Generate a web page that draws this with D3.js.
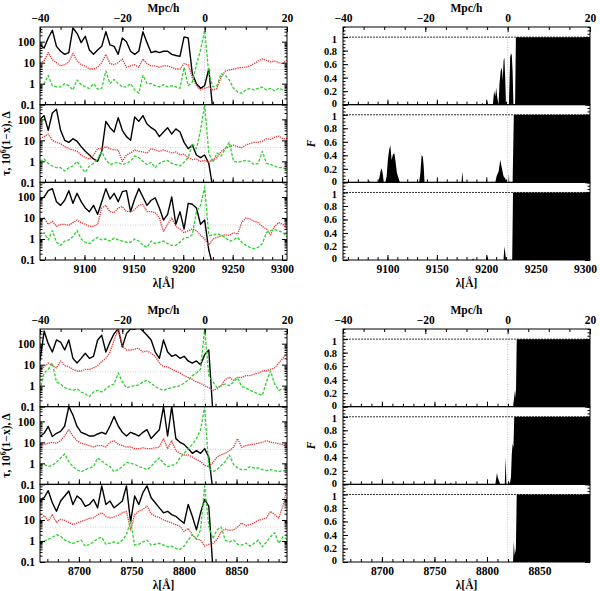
<!DOCTYPE html>
<html>
<head>
<meta charset="utf-8">
<script src="https://cdn.jsdelivr.net/npm/d3@7"></script>
<style>
body { margin: 0; background: #fff; }
text { font-family: "Liberation Serif", serif; font-weight: bold; font-size: 11.5px; fill: #000; }
text.flab { font-size: 10.5px; }
</style>
</head>
<body>
<svg id="chart" width="600" height="591"></svg>
<script>
// comoving distance grid (Mpc/h) shared by every left-hand panel
var mpc = [-40,-39,-38,-37,-36,-35,-34,-33,-32,-31,-30,-29,-28,-27,-26,-25,-24,-23,-22,-21,
  -20,-19,-18,-17,-16,-15,-14,-13,-12,-11,-10,-9,-8,-7,-6,-5,-4,-3,-2,-1,
  0,1,2,3,4,5,6,7,8,9,10,11,12,13,14,15,16,17,18,19,20];

var mpcTicks = [-40, -20, 0, 20];
var lamDomainA = [9055, 9305];
var lamTicksA = [9100, 9150, 9200, 9250, 9300];
var lamDomainB = [8663, 8898];
var lamTicksB = [8700, 8750, 8800, 8850];
var logTicks = [0.1, 1, 10, 100];
var fTicks = [0, 0.2, 0.4, 0.6, 0.8, 1];
var meanLevel = 4.6;

// upper set (lambda ~ 9220 A)
var tauA1 = [70,50,150,350,60,35,25,30,450,250,90,180,40,25,40,60,300,70,60,25,
  150,100,35,25,35,300,90,30,35,30,35,35,25,22,20,170,150,3,1,0.6,0.8,5,0.05];
var xhA1 = [10,12,30,14,10,7,8,11,28,12,8,7,5,5,6,10,25,9,8,10,
  15,6,7,8,6,15,9,7,7,6,7,7,6,5,5,9,8,2,0.8,0.5,
  0.6,0.7,0.5,0.6,2,4,4.5,5,5.5,6,6,7,9,12,15,13,11,12,10,9,14];
var deltaA1 = [0.7,1,2.5,0.8,0.7,0.7,1,0.8,0.5,1.5,0.9,0.7,0.6,1,0.55,0.6,4,1,1.6,1,
  0.7,0.7,1,0.5,0.35,2.5,1,1,0.8,0.7,0.9,0.7,0.8,0.7,0.6,6,0.8,1.2,8,40,
  350,3,0.7,0.8,3,2.5,1.5,0.6,0.4,0.35,0.5,0.6,0.5,0.6,0.7,0.5,0.6,0.45,0.6,0.5,0.45];

var tauA2 = [100,150,30,200,300,30,10,8,12,9,5,3,2,1.3,1,3,80,40,25,120,
  30,15,10,130,80,150,60,40,30,15,25,40,20,35,25,8,4,6,2,1.5,2,0.8,0.05];
var xhA2 = [12,15,20,10,8,7,5,4,3.5,3,2,1.5,1.3,2,4,4,5,4,3.5,3.5,
  1,2,2.5,3.5,3,2.8,2.5,4,3.5,3,3.5,3,2.5,2.8,2,2.2,1.5,1.2,1.3,1,
  1.1,0.9,1.2,1.5,3,4,5,6,5,4.5,6,7,8,8,9,12,11,14,16,12,12];
var deltaA2 = [1,1.3,0.8,0.6,0.5,0.5,0.35,0.5,0.6,1,0.5,0.3,0.6,0.8,1.3,2.8,1.2,0.7,0.8,0.9,
  0.7,0.8,1,1.8,1.5,1,0.7,0.9,0.5,0.8,1,1.1,0.8,0.7,0.6,0.9,1.5,7,4,30,
  500,2.5,0.9,2.5,1.8,4,8,1,0.9,1,1.1,1,0.7,0.8,3,0.8,0.7,0.6,0.5,0.5,0.4];

var tauA3 = [75,100,200,250,60,40,70,200,50,150,60,30,20,40,15,60,250,80,150,60,
  180,200,20,80,250,100,40,70,90,30,8,15,100,5,20,3,50,45,30,5,8,0.3,0.05];
var xhA3 = [7,10,5,7,4,5,5,4.5,6,8,6,5,4,4,5,30,40,20,18,30,
  35,20,20,25,40,45,20,20,18,10,2.3,5,10,4,3,2,2.5,3,2.5,1.5,
  1,0.5,1,1.2,1.4,1.6,1.5,2,1.7,6,10,9,7,6,4,3,1.6,4,6,5,3];
var deltaA3 = [1.2,2,0.9,2.5,0.7,0.5,0.8,0.9,1.3,2.5,1,0.7,0.6,0.9,1.2,0.9,1,0.8,1.1,0.9,
  0.8,0.7,0.7,1,0.8,0.5,0.4,0.8,0.6,0.7,0.8,0.6,0.5,0.5,0.7,1.1,1.2,1.6,20,40,
  300,1.5,1.5,1.8,1.5,1.2,0.8,0.9,1.2,0.7,0.5,0.4,0.35,0.4,0.6,2,2.5,2.8,2.5,2,1.3];

// lower set (lambda ~ 8820 A)
var tauB1 = [15,400,100,40,150,120,50,150,20,12,20,35,20,25,150,250,40,120,300,500,
  70,300,500,500,600,400,250,150,40,20,150,40,25,30,20,25,15,12,15,10,30,50,0.05];
var xhB1 = [5,8,12,9,7,15,9,8,6,5,5,6,6,7,9,14,20,40,150,500,
  80,50,50,55,60,40,45,35,25,12,8,8,6,5,4,3,2.5,2,1.5,1.3,
  1,0.8,0.6,0.7,1,2,2.5,1.8,2.5,2.5,3,3,3.5,4,5,5,6,7,12,20,35];
var deltaB1 = [0.6,4,6,12,1.5,1.2,0.8,0.7,0.6,0.7,0.5,0.4,0.3,0.5,0.6,0.5,0.7,1,1.2,4,
  1.5,0.8,0.9,1,1.1,1.5,1.8,1.3,0.9,0.7,0.6,0.7,0.8,0.9,1,1.3,1.8,3,4,6,
  500,3,1.5,0.8,1,1.2,1,1.5,2.3,0.9,0.8,0.6,0.5,0.4,0.35,1.5,5,1.2,0.6,0.7,0.6];

var tauB2 = [19,27,57,19,27,33,60,500,200,57,30,25,20,20,25,30,25,60,170,60,
  30,20,30,25,20,30,40,15,25,40,500,20,500,15,10,8,5,3,4,3,5,2,0.05];
var xhB2 = [8,8,9,10,9,12,20,40,20,12,9,8,7,6,7,7,6,10,12,8,
  7,6,6,5,5,5.5,5,5,5.5,6,15,5,12,4,3,2.5,2.5,2,1.5,1.2,
  0.8,0.7,1.1,2,2.6,3,4,5.8,15,5.8,7,7.7,8.3,9,10,12,10,9.6,8.7,7.7,5.8];
var deltaB2 = [0.8,0.9,0.7,0.8,1.1,1.8,2.8,1.2,0.7,0.5,0.4,0.5,0.6,0.7,1.8,1.3,0.9,0.7,0.4,0.5,
  0.7,1.1,1,0.9,0.7,0.6,0.5,0.7,1.2,1.8,1,0.7,0.8,0.9,1.8,3,5,8,15,40,
  500,0.6,0.4,0.5,0.8,1.2,2.5,0.9,0.6,0.5,0.5,0.7,0.6,0.6,0.5,0.45,0.5,0.45,0.4,0.45,0.4];

var tauB3 = [96,115,250,66,26,80,140,240,55,140,96,45,55,96,38,420,55,80,38,55,
  80,420,8,140,55,200,420,115,66,38,22,26,18,15,10,7,55,15,3.4,22,96,45,0.05];
var xhB3 = [10.4,16,9,18,7.7,11,9.6,7.7,6.2,7.2,8.6,10,12,12.5,18,22,15,12.5,14,17,
  22,26,3.4,18,26,32,46,20,15,13,10,8.6,7.2,6,5,2.8,4,2,1.2,1.1,
  0.57,0.7,0.77,1.2,2.8,3.7,3.2,3.4,4.6,7.2,5.3,6,7.2,9.6,11,12.5,26,18,12.5,46,290];
var deltaB3 = [0.77,1,1.2,1.5,2,1.7,1.1,0.9,0.77,0.9,1.1,0.57,0.7,0.9,1.3,1.5,0.7,0.8,0.9,0.77,
  1.1,2,8.6,0.64,0.7,0.9,1.1,0.64,0.7,0.77,0.64,0.53,0.57,0.44,0.4,0.57,1.1,2,1.3,3.4,
  420,5,1.3,3.4,4.6,1.1,0.9,1.1,0.7,0.64,0.8,0.57,0.77,1.1,0.53,0.9,1.6,2.5,0.77,1.6,1.2];

// transmitted flux, [Mpc/h, F] pairs
var fluxA1 = [[-40,0],[-6.3,0],[-6.1,0.03],[-5.9,0],[-5.0,0],[-4.9,0.06],[-4.7,0],[-3.6,0],[-3.3,0.2],
  [-3.0,0.12],[-2.8,0.25],[-2.5,0.1],[-2.2,0],[-2.0,0.3],[-1.7,0.5],[-1.4,0.55],[-1.2,0.35],[-1.0,0.65],
  [-0.8,0.7],[-0.6,0.4],[-0.4,0],[0.3,0],[0.6,0.7],[0.8,0.76],[1.0,0.73],[1.2,0.5],[1.4,0],[1.8,0],[2.0,1],[20,1]];
var fluxA2 = [[-40,0],[-33.9,0],[-33.7,0.03],[-33.5,0],[-31.5,0],[-31.2,0.06],[-30.9,0.16],[-30.6,0.21],
  [-30.3,0.11],[-30.1,0],[-29.7,0],[-29.4,0.09],[-29.1,0.33],[-28.8,0.48],[-28.5,0.55],[-28.2,0.33],
  [-27.9,0.41],[-27.5,0.43],[-27.2,0.29],[-26.9,0.14],[-26.5,0.06],[-26.2,0],[-21.5,0],[-21.2,0.14],
  [-20.9,0.4],[-20.6,0.38],[-20.4,0.24],[-20.2,0],[-11.2,0],[-11.0,0.16],[-10.8,0],[-3.0,0],[-2.7,0.09],
  [-2.2,0.16],[-1.8,0.33],[-1.4,0.21],[-1.0,0.09],[-0.6,0.06],[-0.3,0],[0.2,0],[0.3,0.13],[0.4,0],
  [1.2,0],[1.5,1],[20,1]];
var fluxA3 = [[-40,0],[-8.6,0],[-8.4,0.03],[-8.2,0],[-5.1,0],[-4.9,0.07],[-4.7,0],[-1.0,0],[-0.8,0.2],
  [-0.6,0.12],[-0.4,0],[1.1,0],[1.3,1],[20,1]];
var fluxB1 = [[-40,0],[1.3,0],[1.6,0.15],[1.8,0.25],[2.0,0.12],[2.2,1],[20,1]];
var fluxB2 = [[-40,0],[-14.0,0],[-13.8,0.03],[-13.6,0],[-3.0,0],[-2.8,0.08],[-2.6,0.17],[-2.4,0.1],
  [-2.1,0.05],[-1.8,0],[-0.7,0],[-0.5,0.4],[-0.3,0],[0.2,0],[0.3,0.05],[0.5,0],[0.8,0.1],[1.0,0.45],
  [1.2,0.6],[1.4,0.55],[1.6,1],[20,1]];
var fluxB3 = [[-40,0],[1.3,0],[1.5,0.3],[1.7,0.1],[2.0,0.2],[2.2,1],[20,1]];

var svg = d3.select("#chart");
var clipId = 0;

function decadeMinor(lo, hi) {
    var out = [];
    [0.1, 1, 10, 100].forEach(function(d) {
        for (var k = 2; k <= 9; k++) {
            if (d * k > lo && d * k < hi) out.push(d * k);
        }
    });
    return out;
}

function lamMinor(domain) {
    var out = [];
    for (var v = Math.ceil(domain[0] / 10) * 10; v <= domain[1]; v += 10) out.push(v);
    return out;
}

function mpcMinor() {
    var out = [];
    for (var v = -40; v <= 20; v += 5) out.push(v);
    return out;
}

function drawGroup(left, right, top, bottom, lamDomain, lamTicks, kind, panels) {
    var x = d3.scaleLinear().domain([-40, 20]).range([left, right]);
    var xl = d3.scaleLinear().domain(lamDomain).range([left, right]);
    var ph = (bottom - top) / 3;
    var g = svg.append("g");

    panels.forEach(function(p, i) {
        var y0 = top + i * ph;
        var y1 = y0 + ph;
        var y;
        if (kind == "left") {
            y = d3.scaleLog().domain([0.1, 500]).range([y1, y0]);
        } else {
            y = d3.scaleLinear().domain([0, 1.15]).range([y1, y0]);
        }

        clipId++;
        g.append("clipPath")
        .attr("id", "clip" + clipId)
        .append("rect")
        .attr("x", left)
        .attr("y", y0)
        .attr("width", right - left)
        .attr("height", ph);

        var body = g.append("g").attr("clip-path", "url(#clip" + clipId + ")");

        // zero-distance marker
        body.append("line")
        .attr("x1", x(0)).attr("x2", x(0))
        .attr("y1", y0).attr("y2", y1)
        .attr("stroke", "#aaa")
        .attr("stroke-width", 0.7)
        .attr("stroke-dasharray", "1,1.5");

        if (kind == "left") {
            body.append("line")
            .attr("x1", left).attr("x2", right)
            .attr("y1", y(meanLevel)).attr("y2", y(meanLevel))
            .attr("stroke", "#bbb")
            .attr("stroke-width", 0.7)
            .attr("stroke-dasharray", "1,1.5");

            var series = [
                {vals: p.tau, color: "#000", w: 1.4, dash: null},
                {vals: p.xh, color: "#e23a3a", w: 1.3, dash: "1.3,0.9"},
                {vals: p.delta, color: "#2fd02f", w: 1.3, dash: "3,1.6"}
            ];
            series.forEach(function(s) {
                var line = d3.line()
                .defined(function(d, j) { return s.vals[j] != null; })
                .x(function(d, j) { return x(mpc[j]); })
                .y(function(d, j) { return y(s.vals[j]); });
                body.append("path")
                .datum(s.vals)
                .attr("d", line)
                .attr("fill", "none")
                .attr("stroke", s.color)
                .attr("stroke-width", s.w)
                .attr("stroke-linejoin", "round")
                .attr("stroke-dasharray", s.dash);
            });
        } else {
            body.append("line")
            .attr("x1", left).attr("x2", right)
            .attr("y1", y(1)).attr("y2", y(1))
            .attr("stroke", "#333")
            .attr("stroke-width", 1)
            .attr("stroke-dasharray", "2,1");

            var area = d3.area()
            .x(function(d) { return x(d[0]); })
            .y0(y(0))
            .y1(function(d) { return y(d[1]); });
            body.append("path")
            .datum(p.flux)
            .attr("d", area)
            .attr("fill", "#000");
        }

        // y ticks, both sides, pointing inward
        var major = kind == "left" ? logTicks : fTicks;
        var minor = kind == "left" ? decadeMinor(0.1, 500) : d3.range(0, 1.151, 0.05);
        var fmt = function(d) { return String(d); };

        g.append("g")
        .attr("transform", "translate(" + left + ",0)")
        .call(d3.axisLeft(y).tickValues(minor).tickSize(-2.5).tickFormat(""))
        .call(function(a) { a.select(".domain").remove(); });
        g.append("g")
        .attr("transform", "translate(" + right + ",0)")
        .call(d3.axisRight(y).tickValues(minor).tickSize(-2.5).tickFormat(""))
        .call(function(a) { a.select(".domain").remove(); });
        var yl = g.append("g")
        .attr("transform", "translate(" + left + ",0)")
        .call(d3.axisLeft(y).tickValues(major).tickSize(-5).tickPadding(kind == "left" ? 5 : 6).tickFormat(fmt))
        .call(function(a) { a.select(".domain").remove(); });
        if (kind != "left") {
            // F labels of neighbouring panels sit close together, nudge them apart
            yl.selectAll("text")
            .attr("class", "flab")
            .attr("y", function(d) { return d == 0 ? -1.5 : (d == 1 ? 1.5 : 0); });
        }
        g.append("g")
        .attr("transform", "translate(" + right + ",0)")
        .call(d3.axisRight(y).tickValues(major).tickSize(-5).tickFormat(""))
        .call(function(a) { a.select(".domain").remove(); });

        // lambda ticks along the bottom of each panel
        g.append("g")
        .attr("transform", "translate(0," + y1 + ")")
        .call(d3.axisBottom(xl).tickValues(lamMinor(lamDomain)).tickSize(-3).tickFormat(""))
        .call(function(a) { a.select(".domain").remove(); });
        g.append("g")
        .attr("transform", "translate(0," + y1 + ")")
        .call(d3.axisBottom(xl).tickValues(lamTicks).tickSize(-5).tickPadding(5)
            .tickFormat(i == 2 ? function(d) { return String(d); } : ""))
        .call(function(a) { a.select(".domain").remove(); });

        g.append("rect")
        .attr("x", left)
        .attr("y", y0)
        .attr("width", right - left)
        .attr("height", ph)
        .attr("fill", "none")
        .attr("stroke", "#000")
        .attr("stroke-width", 1);
    });

    // Mpc/h ticks on top of the group
    g.append("g")
    .attr("transform", "translate(0," + top + ")")
    .call(d3.axisTop(x).tickValues(mpcMinor()).tickSize(-3).tickFormat(""))
    .call(function(a) { a.select(".domain").remove(); });
    g.append("g")
    .attr("transform", "translate(0," + top + ")")
    .call(d3.axisTop(x).tickValues(mpcTicks).tickSize(-5).tickPadding(5))
    .call(function(a) { a.select(".domain").remove(); });

    var cx = (left + right) / 2;
    g.append("text")
    .attr("x", cx)
    .attr("y", top - 15)
    .attr("text-anchor", "middle")
    .text("Mpc/h");
    g.append("text")
    .attr("x", cx)
    .attr("y", bottom + 27)
    .attr("text-anchor", "middle")
    .text("λ[Å]");

    var cy = top + ph * 1.5;
    if (kind == "left") {
        var t = g.append("text")
        .attr("transform", "translate(" + (left - 30) + "," + cy + ") rotate(-90)")
        .attr("text-anchor", "middle");
        t.append("tspan").text("τ, 10");
        t.append("tspan").attr("dy", -4).style("font-size", "8px").text("6");
        t.append("tspan").attr("dy", 4).text("(1−x), Δ");
    } else {
        g.append("text")
        .attr("transform", "translate(" + (left - 28) + "," + cy + ") rotate(-90)")
        .attr("text-anchor", "middle")
        .style("font-style", "italic")
        .text("F");
    }
}

drawGroup(40, 287, 27, 260, lamDomainA, lamTicksA, "left", [
    {tau: tauA1, xh: xhA1, delta: deltaA1},
    {tau: tauA2, xh: xhA2, delta: deltaA2},
    {tau: tauA3, xh: xhA3, delta: deltaA3}
]);
drawGroup(343, 590, 27, 260, lamDomainA, lamTicksA, "right", [
    {flux: fluxA1}, {flux: fluxA2}, {flux: fluxA3}
]);
drawGroup(40, 287, 329, 562, lamDomainB, lamTicksB, "left", [
    {tau: tauB1, xh: xhB1, delta: deltaB1},
    {tau: tauB2, xh: xhB2, delta: deltaB2},
    {tau: tauB3, xh: xhB3, delta: deltaB3}
]);
drawGroup(343, 590, 329, 562, lamDomainB, lamTicksB, "right", [
    {flux: fluxB1}, {flux: fluxB2}, {flux: fluxB3}
]);
</script>
</body>
</html>
